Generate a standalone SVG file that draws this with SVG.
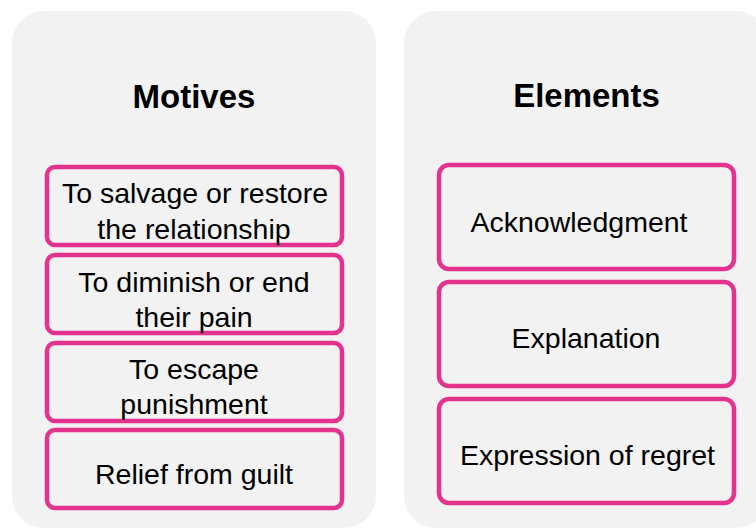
<svg xmlns="http://www.w3.org/2000/svg" width="756" height="529" viewBox="0 0 756 529">
<style>
.panel{fill:#F2F2F2;}
.box{fill:#F2F2F2;stroke:#E3338F;stroke-width:4.5;}
.title{font-family:"Liberation Sans",Arial,sans-serif;font-weight:bold;font-size:33px;fill:#000;text-anchor:middle;}
.lbl{font-family:"Liberation Sans",Arial,sans-serif;font-size:28.5px;fill:#000;text-anchor:middle;}
</style>
<rect x="0" y="0" width="756" height="529" fill="#FFFFFF"/>
<g id="panel-motives">
<rect class="panel" x="12" y="11" width="364" height="517" rx="32"/>
<text class="title" x="194" y="108">Motives</text>
</g>
<g id="panel-elements">
<rect class="panel" x="404" y="11" width="364" height="517" rx="32"/>
<text class="title" x="586.5" y="107">Elements</text>
</g>
<g id="m1">
<rect class="box" x="47" y="167" width="295" height="78" rx="8"/>
<text class="lbl" x="195" y="203">To salvage or restore</text>
<text class="lbl" x="194" y="239">the relationship</text>
</g>
<g id="m2">
<rect class="box" x="47" y="255" width="295" height="78" rx="8"/>
<text class="lbl" x="194" y="292">To diminish or end</text>
<text class="lbl" x="194" y="327">their pain</text>
</g>
<g id="m3">
<rect class="box" x="47" y="343" width="295" height="78" rx="8"/>
<text class="lbl" x="194" y="379">To escape</text>
<text class="lbl" x="194" y="414">punishment</text>
</g>
<g id="m4">
<rect class="box" x="47" y="430" width="295" height="78" rx="8"/>
<text class="lbl" x="194" y="484">Relief from guilt</text>
</g>
<g id="e1">
<rect class="box" x="439" y="165" width="295" height="104" rx="10"/>
<text class="lbl" x="579" y="232">Acknowledgment</text>
</g>
<g id="e2">
<rect class="box" x="439" y="282" width="295" height="104" rx="10"/>
<text class="lbl" x="586" y="348">Explanation</text>
</g>
<g id="e3">
<rect class="box" x="439" y="399" width="295" height="104" rx="10"/>
<text class="lbl" x="587.5" y="465">Expression of regret</text>
</g>
<g id="connectors"></g>
</svg>
